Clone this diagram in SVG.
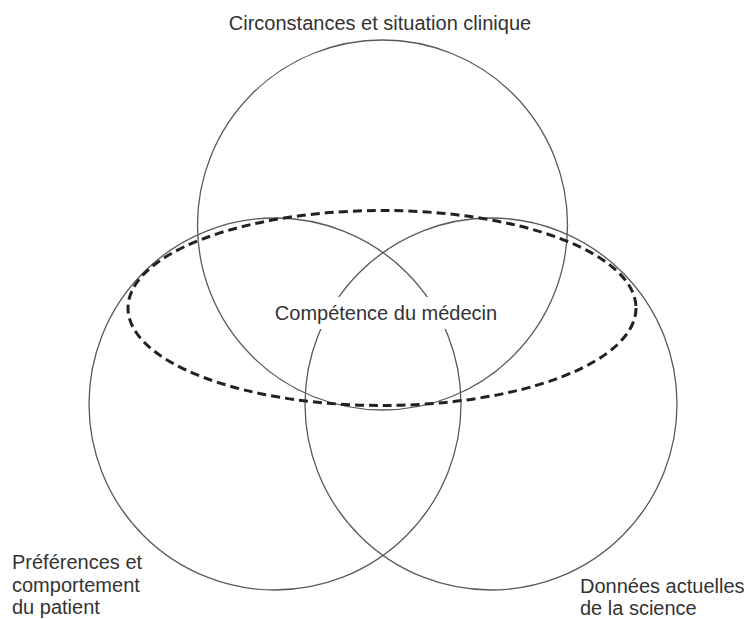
<svg xmlns="http://www.w3.org/2000/svg" width="746" height="619" viewBox="0 0 746 619">
<style>
.c{fill:none;stroke:#5a5a5a;stroke-width:1.3}
.d{fill:none;stroke:#222;stroke-width:3;stroke-dasharray:9 5}
.t{font-family:"Liberation Sans",Arial,sans-serif;font-size:20px;fill:#333}
</style>
<rect x="0" y="0" width="746" height="619" fill="#fff"/>
<g id="circonstances">
<circle class="c" cx="382.5" cy="225" r="185"/>
<text class="t" x="380" y="30" text-anchor="middle">Circonstances et situation clinique</text>
</g>
<g id="preferences">
<circle class="c" cx="275" cy="404" r="186"/>
<text class="t" x="12" y="569">Préférences et</text>
<text class="t" x="12" y="592">comportement</text>
<text class="t" x="12" y="614">du patient</text>
</g>
<g id="donnees">
<circle class="c" cx="491" cy="404" r="186"/>
<text class="t" x="580" y="593">Données actuelles</text>
<text class="t" x="580" y="615">de la science</text>
</g>
<g id="competence">
<ellipse class="d" cx="382" cy="308" rx="254" ry="97.5"/>
<rect x="268" y="297" width="236" height="32" fill="#fff"/>
<text class="t" x="386" y="320" text-anchor="middle">Compétence du médecin</text>
</g>
</svg>
